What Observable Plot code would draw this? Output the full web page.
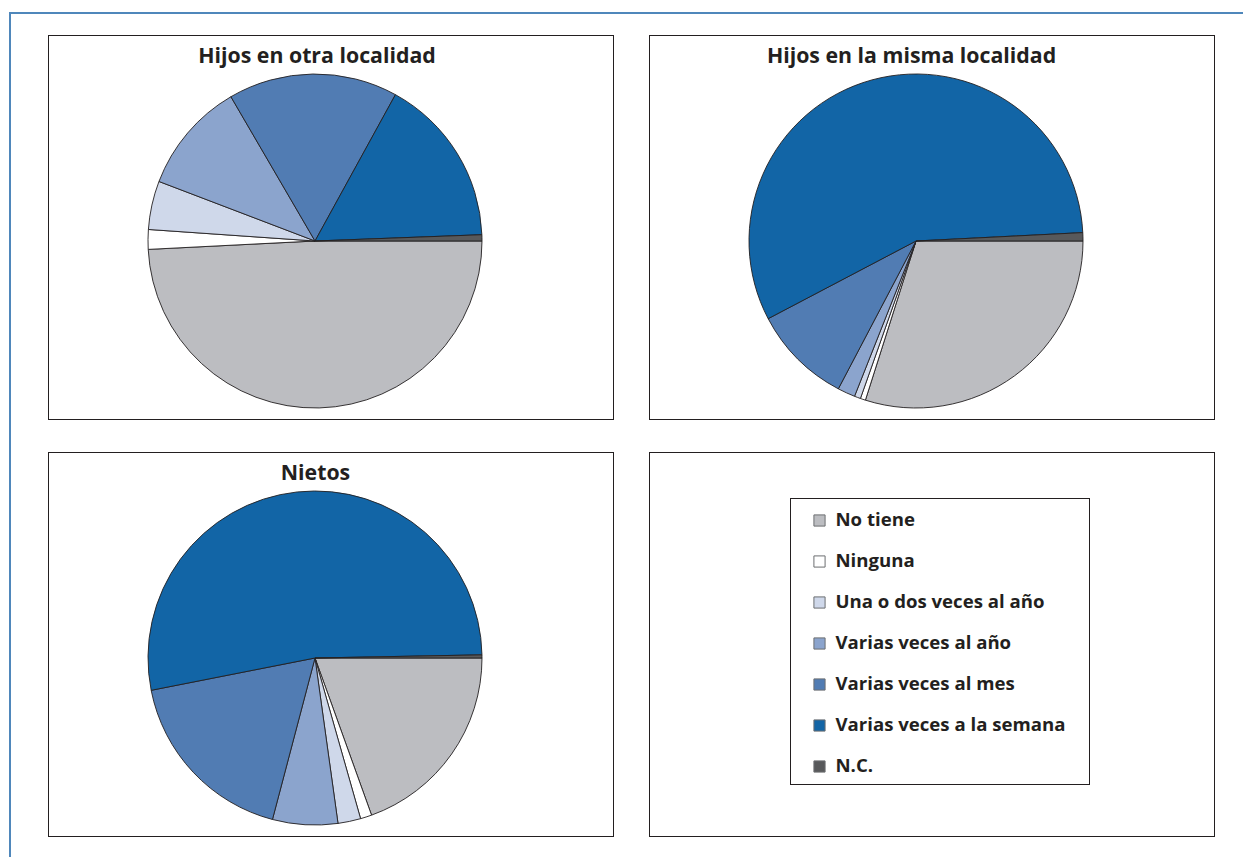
<!DOCTYPE html>
<html>
<head>
<meta charset="utf-8">
<script src="https://cdn.jsdelivr.net/npm/d3@7"></script>
<script src="https://cdn.jsdelivr.net/npm/@observablehq/plot@0.6"></script>
<style>
  body { margin: 0; background: #fff; font-family: "Open Sans", sans-serif; }
  #root { position: relative; width: 1243px; height: 857px; overflow: hidden; background: #fff; }
  .rule-top { position: absolute; left: 9px; top: 12px; width: 1234px; height: 2px; background: #4f87bb; }
  .rule-left { position: absolute; left: 9px; top: 12px; width: 2px; height: 845px; background: #4f87bb; }
  .panel { position: absolute; box-sizing: border-box; border: 1px solid #231f20; background: #fff; }
  .panel svg { position: absolute; left: 0; top: 0; }
  .legend-box { position: absolute; box-sizing: border-box; border: 1px solid #231f20; background: #fff; }
  .legend-box svg { position: absolute; left: 0; top: 0; }
</style>
</head>
<body>
<div id="root">
  <div class="rule-top"></div>
  <div class="rule-left"></div>
</div>
<script>
// Frequency of contact categories, in the order the slices are laid out
const categories = [
  "No tiene",
  "Ninguna",
  "Una o dos veces al año",
  "Varias veces al año",
  "Varias veces al mes",
  "Varias veces a la semana",
  "N.C."
];
const sliceColors = ["#bcbdc1", "#ffffff", "#cfd8ea", "#8ba4cd", "#517cb3", "#1265a6", "#58595b"];

// Percent shares for each group
const hijosOtraLocalidad  = [49.2, 1.9, 4.7, 10.8, 16.4, 16.4, 0.6];
const hijosMismaLocalidad = [29.9, 0.5, 0.6, 1.7, 9.6, 56.9, 0.8];
const nietos              = [19.5, 1.1, 2.2, 6.3, 17.8, 52.8, 0.3];

const chartTitles = ["Hijos en otra localidad", "Hijos en la misma localidad", "Nietos"];

// Panel layout (page pixels)
const panels = [
  {left: 48,  top: 35,  title: chartTitles[0], values: hijosOtraLocalidad,  titleX: 267.5},
  {left: 649, top: 35,  title: chartTitles[1], values: hijosMismaLocalidad, titleX: 261},
  {left: 48,  top: 452, title: chartTitles[2], values: nietos,              titleX: 266}
];
const PANEL_W = 566, PANEL_H = 385;
const INNER_W = PANEL_W - 2, INNER_H = PANEL_H - 2;
const PIE_CX = 266, PIE_CY = 205, PIE_R = 167;

const colorOf = d3.scaleOrdinal(categories, sliceColors);
const root = document.getElementById("root");

// Pie drawn inside Plot using its x/y scales for center and radius
function pieMark(rows) {
  return (index, scales) => {
    const cx = scales.x(0), cy = scales.y(0);
    const r = scales.x(1) - scales.x(0);
    const arcs = d3.pie()
      .sort(null)
      .value(d => d.value)
      .startAngle(Math.PI / 2)
      .endAngle(Math.PI / 2 + 2 * Math.PI)(rows);
    const arc = d3.arc().innerRadius(0).outerRadius(r);
    const g = d3.create("svg:g").attr("transform", `translate(${cx},${cy})`);
    g.selectAll("path")
      .data(arcs)
      .join("path")
      .attr("d", arc)
      .attr("fill", d => colorOf(d.data.category))
      .attr("stroke", "#231f20")
      .attr("stroke-width", 0.9)
      .attr("stroke-linejoin", "round");
    return g.node();
  };
}

for (const p of panels) {
  const rows = categories.map((c, i) => ({category: c, value: p.values[i]}));
  const div = document.createElement("div");
  div.className = "panel";
  Object.assign(div.style, {left: p.left + "px", top: p.top + "px", width: PANEL_W + "px", height: PANEL_H + "px"});
  const chart = Plot.plot({
    width: INNER_W,
    height: INNER_H,
    margin: 0,
    style: {background: "transparent", overflow: "visible"},
    x: {domain: [-1, 1], range: [PIE_CX - PIE_R, PIE_CX + PIE_R], axis: null},
    y: {domain: [-1, 1], range: [PIE_CY + PIE_R, PIE_CY - PIE_R], axis: null},
    marks: [
      pieMark(rows),
      Plot.text([p.title], {
        frameAnchor: "top-left",
        dx: p.titleX,
        dy: 26,
        text: d => d,
        textAnchor: "middle",
        lineAnchor: "bottom",
        fontSize: 21.3,
        fontWeight: "bold",
        fontFamily: "Open Sans",
        fill: "#231f20"
      })
    ]
  });
  div.appendChild(chart);
  root.appendChild(div);
}

// Fourth panel with the legend
const legendPanel = document.createElement("div");
legendPanel.className = "panel";
Object.assign(legendPanel.style, {left: "649px", top: "452px", width: PANEL_W + "px", height: PANEL_H + "px"});
root.appendChild(legendPanel);

const legendBox = document.createElement("div");
legendBox.className = "legend-box";
Object.assign(legendBox.style, {left: "140px", top: "45px", width: "300px", height: "287px"});
legendPanel.appendChild(legendBox);

const legend = Plot.plot({
  width: 298,
  height: 285,
  margin: 0,
  style: {background: "transparent", overflow: "visible"},
  y: {type: "point", domain: categories, range: [19.5, 268], padding: 0, axis: null},
  color: {domain: categories, range: sliceColors},
  marks: [
    Plot.dot(categories, {
      frameAnchor: "left",
      dx: 28,
      y: d => d,
      fill: d => d,
      symbol: "square",
      r: 6.3,
      stroke: "#6d6e71",
      strokeWidth: 1
    }),
    Plot.text(categories, {
      frameAnchor: "left",
      dx: 44,
      y: d => d,
      text: d => d,
      textAnchor: "start",
      fontSize: 18.6,
      fontWeight: "bold",
      fontFamily: "Open Sans",
      fill: "#231f20"
    })
  ]
});
legendBox.appendChild(legend);
</script>
</body>
</html>
